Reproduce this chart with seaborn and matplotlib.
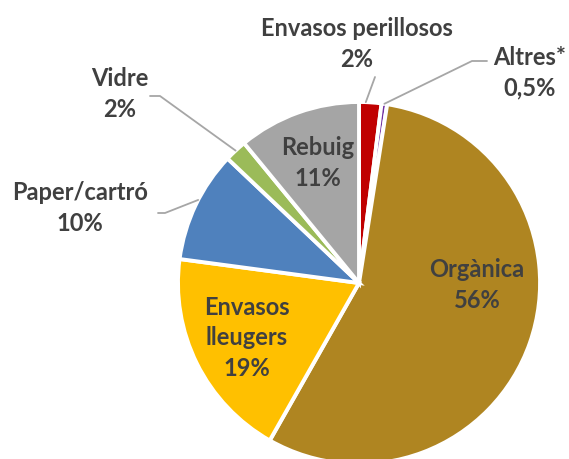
import numpy as np
import matplotlib
matplotlib.use("Agg")
import matplotlib.pyplot as plt
import seaborn as sns

# residue fractions (%), clockwise from 12 o'clock
categories = ["Envasos perillosos", "Altres*", "Orgànica", "Envasos\nlleugers",
              "Paper/cartró", "Vidre", "Rebuig"]
values = [2, 0.5, 56, 19, 10, 2, 11]
pct_labels = ["2%", "0,5%", "56%", "19%", "10%", "2%", "11%"]
colors = ["#C00000", "#7030A0", "#AF8521", "#FFC000", "#4F81BD", "#9BBB59", "#A5A5A5"]
explode = [0, 0, 11, 3, 0, 0, 0]

sns.set_theme(style="white")
plt.rcParams["font.family"] = ["Lato", "DejaVu Sans"]

W, H = 569, 460
fig = plt.figure(figsize=(W / 100, H / 100), dpi=100)
ax = fig.add_axes([0, 0, 1, 1])

cx, cy, r = 359, H - 284, 181
wedges, _ = ax.pie(values, colors=colors, startangle=90, counterclock=False,
                   explode=[e / r for e in explode], radius=r, center=(cx, cy),
                   wedgeprops=dict(edgecolor="white", linewidth=2.8))
ax.set_xlim(0, W)
ax.set_ylim(0, H)
ax.set_aspect("equal")
ax.axis("off")

txt = dict(color="#404040", fontweight="bold", fontsize=17, ha="center", va="center",
           linespacing=1.38)


def edge_point(w, frac=0.5, rad=1.0):
    a = np.deg2rad(w.theta1 + (w.theta2 - w.theta1) * frac)
    x0, y0 = w.center
    return x0 + w.r * rad * np.cos(a), y0 + w.r * rad * np.sin(a)


# inside labels
ax.text(477, H - 285, f"{categories[2]}\n{pct_labels[2]}", **txt)
ax.text(247, H - 338, f"{categories[3]}\n{pct_labels[3]}", **txt)
ax.text(318, H - 163, f"{categories[6]}\n{pct_labels[6]}", **txt)

# outside labels with leader lines
line = dict(color="#A6A6A6", lw=1.3)
ax.text(357, H - 44, f"{categories[0]}\n{pct_labels[0]}", **txt)
px, py = edge_point(wedges[0], 0.7)
ax.plot([375, px], [H - 78, py], **line)

ax.text(530, H - 73, f"{categories[1]}\n{pct_labels[1]}", **txt)
px, py = edge_point(wedges[1], 0.5)
ax.plot([487, 472, px], [H - 62, H - 62, py], **line)

ax.text(120, H - 94, f"{categories[5]}\n{pct_labels[5]}", **txt)
px, py = edge_point(wedges[5], 0.5)
ax.plot([150, 160, px], [H - 97, H - 97, py], **line)

ax.text(80, H - 208, f"{categories[4]}\n{pct_labels[4]}", **txt)
px, py = edge_point(wedges[4], 0.45)
ax.plot([158, 165, px], [H - 214, H - 214, py], **line)

fig.savefig("out.png", dpi=100, facecolor="white")
